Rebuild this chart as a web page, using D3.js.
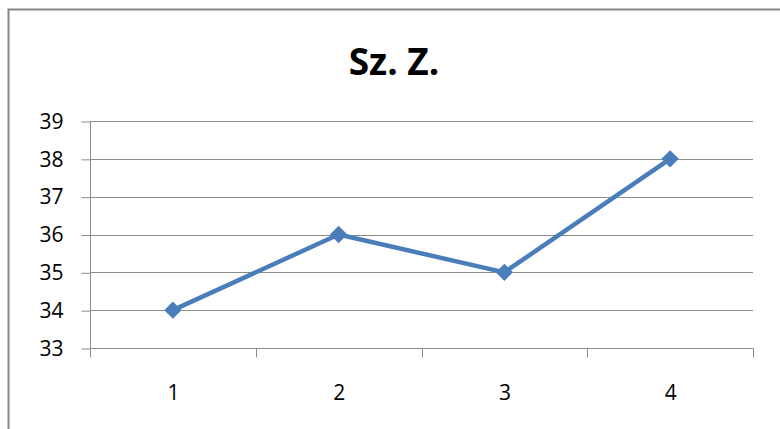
<!DOCTYPE html>
<html><head><meta charset="utf-8">
<script src="https://cdn.jsdelivr.net/npm/d3@7"></script>
<style>body{margin:0;background:#fff}svg{display:block}</style>
</head><body><svg id="c" width="780" height="429"></svg>
<script>
const title = "Sz. Z.";
const categories = ["1","2","3","4"];
const values = [34, 36, 35, 38];
const yTicks = [33,34,35,36,37,38,39];

const svg = d3.select("#c");
const W = 780, H = 429;
const m = {left: 90, right: 27, top: 121, bottom: 81};
const font = "'Open Sans', 'Liberation Sans', sans-serif";

svg.append("rect").attr("x",8.5).attr("y",9.5).attr("width",W+10).attr("height",H+10)
  .attr("fill","#fff").attr("stroke","#868686").attr("stroke-width",2);

const x = d3.scaleBand().domain(categories).range([m.left, W-m.right]);
const y = d3.scaleLinear().domain([33,39]).range([H-m.bottom, m.top]);

svg.append("text").attr("x",394).attr("y",75).attr("text-anchor","middle")
  .attr("font-family",font).attr("font-weight","bold").attr("font-size",37).attr("fill","#000").text(title);

// gridlines
svg.append("g").selectAll("line").data(yTicks.slice(1)).join("line")
  .attr("x1",m.left).attr("x2",W-m.right).attr("y1",d=>Math.round(y(d))+0.5).attr("y2",d=>Math.round(y(d))+0.5)
  .attr("stroke","#8c8c8c").attr("stroke-width",1);

// y axis
const ya = svg.append("g").attr("transform",`translate(${m.left+0.5},0.5)`)
  .call(d3.axisLeft(y).tickValues(yTicks).tickSize(9).tickPadding(18).tickFormat(d3.format("d")));
ya.selectAll("path,line").attr("stroke","#8c8c8c");
ya.select(".domain").attr("d",`M0,${y(39)}V${y(33)}`);
ya.selectAll("text").attr("font-family",font).attr("font-size",21).attr("fill","#000");

// x axis
const xa = svg.append("g").attr("transform",`translate(0.5,${H-m.bottom+0.5})`)
  .call(d3.axisBottom(x).tickSize(0).tickPadding(0));
xa.select(".domain").attr("d",`M${m.left},0H${W-m.right}`).attr("stroke","#8c8c8c");
xa.selectAll("text").attr("font-family",font).attr("font-size",21).attr("fill","#000").attr("y",51).attr("dy",0);
const bounds = categories.map(c=>x(c)).concat([x(categories[categories.length-1])+x.bandwidth()]);
xa.append("g").selectAll("line").data(bounds).join("line")
  .attr("x1",d=>Math.round(d)).attr("x2",d=>Math.round(d)).attr("y1",0).attr("y2",9).attr("stroke","#8c8c8c");

// line
const cx = d => x(d) + x.bandwidth()/2;
svg.append("path").datum(values)
  .attr("d", d3.line().x((d,i)=>cx(categories[i])).y(d=>y(d)))
  .attr("fill","none").attr("stroke","#4a7ebb").attr("stroke-width",4.5).attr("stroke-linejoin","round");
svg.append("g").selectAll("path").data(values).join("path")
  .attr("d", d3.symbol(d3.symbolSquare, 150))
  .attr("transform",(d,i)=>`translate(${cx(categories[i])},${y(d)}) rotate(45)`)
  .attr("fill","#4a7ebb");
</script></body></html>
